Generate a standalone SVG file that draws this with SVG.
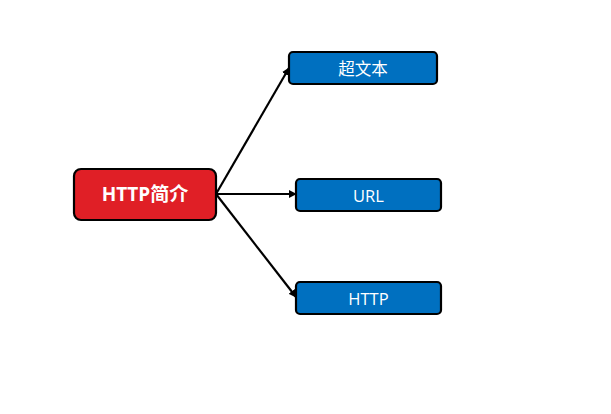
<svg xmlns="http://www.w3.org/2000/svg" width="611" height="414" viewBox="0 0 611 414">
<defs>
<style>
.n{stroke:#000;stroke-width:2.2}
.b{fill:#0070C0}
.r{fill:#E01F26}
.t{font-family:"Open Sans","Noto Sans CJK SC",sans-serif;fill:#fff;text-anchor:middle;dominant-baseline:central}
.e{stroke:#000;stroke-width:2.2;fill:none;marker-end:url(#a)}
</style>
<marker id="a" viewBox="0 0 10 10" refX="9" refY="5" markerWidth="3.6" markerHeight="3.6" orient="auto">
<path d="M0,0L10,5L0,10z" fill="#000"/>
</marker>
</defs>
<rect width="611" height="414" fill="#fff"/>
<g id="edges">
<path class="e" d="M216,194L289,68"/>
<path class="e" d="M216,194L296,194"/>
<path class="e" d="M216,194L296,297"/>
</g>
<g id="root">
<rect class="n r" x="74" y="169" width="142" height="51" rx="7"/>
<text class="t" x="145" y="194" font-size="19" font-weight="bold">HTTP简介</text>
</g>
<g id="n1">
<rect class="n b" x="289" y="52" width="148" height="32" rx="4"/>
<text class="t" x="363" y="68" font-size="16.5">超文本</text>
</g>
<g id="n2">
<rect class="n b" x="296" y="179" width="145" height="32" rx="4"/>
<text class="t" x="368.5" y="195" font-size="16.5">URL</text>
</g>
<g id="n3">
<rect class="n b" x="296" y="282" width="145" height="32" rx="4"/>
<text class="t" x="368.5" y="298" font-size="16.5">HTTP</text>
</g>
</svg>
